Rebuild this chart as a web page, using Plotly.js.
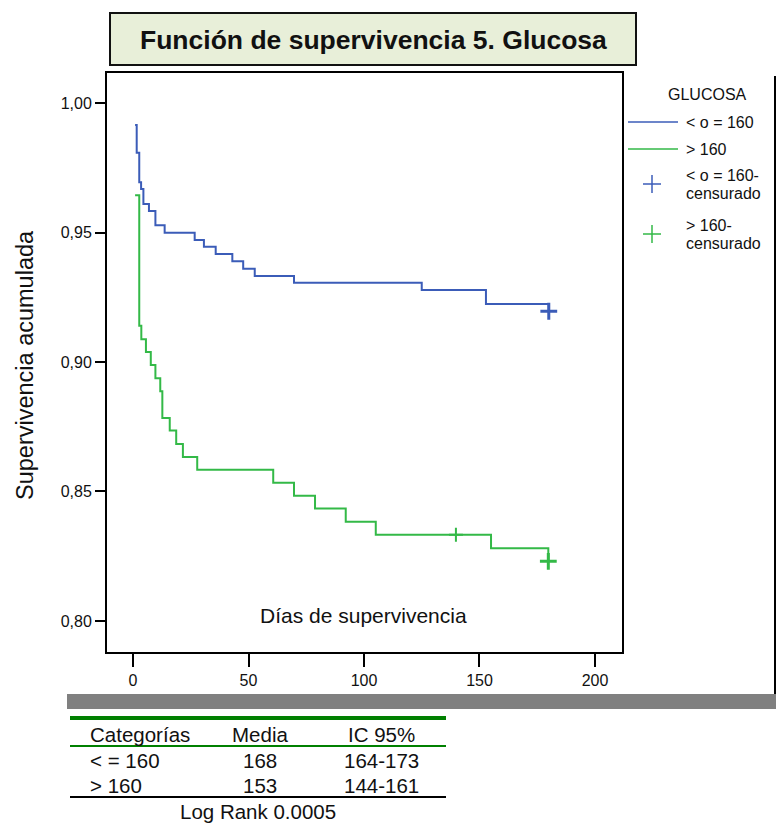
<!DOCTYPE html>
<html>
<head>
<meta charset="utf-8">
<script src="https://cdn.plot.ly/plotly-3.0.1.min.js"></script>
<style>
html,body{margin:0;padding:0;background:#fff;}
#chart{width:776px;height:823px;}
</style>
</head>
<body>
<div id="chart"></div>
<script>
// ---- data ----
const groupNames = ["< o = 160", "> 160"];
const timesLow = [0.9, 1.6, 2.7, 3.5, 4.5, 6.9, 9.7, 13.7, 26.7, 30.7, 35.8, 43.0, 47.7, 52.7, 69.7, 125.0, 152.8, 180.0];
const survLow  = [0.9915, 0.9808, 0.9694, 0.9668, 0.9610, 0.9583, 0.9528, 0.9499, 0.9471, 0.9445, 0.9417, 0.9389, 0.9360, 0.9332, 0.9306, 0.9278, 0.9224, 0.9196];
const timesHigh = [0.9, 2.7, 3.6, 5.6, 7.7, 9.7, 11.8, 12.7, 15.9, 18.7, 21.6, 27.8, 60.7, 69.7, 78.8, 92.1, 105.1, 155.0, 179.8];
const survHigh  = [0.9644, 0.9140, 0.9088, 0.9039, 0.8988, 0.8937, 0.8887, 0.8784, 0.8735, 0.8683, 0.8633, 0.8584, 0.8534, 0.8483, 0.8434, 0.8383, 0.8333, 0.8281, 0.8230];
const censLowT = [180.0];
const censLowS = [0.9196];
const censHighT = [139.8, 179.8];
const censHighS = [0.8333, 0.8230];
const xTicks = [0, 50, 100, 150, 200];
const yTicks = [0.80, 0.85, 0.90, 0.95, 1.00];

const tableHeader = ["Categorías", "Media", "IC 95%"];
const tableCategories = ["< = 160", "> 160"];
const tableMeans = ["168", "153"];
const tableCI = ["164-173", "144-161"];
const logRankText = "Log Rank 0.0005";

// ---- styling ----
const W = 776, H = 823;
const BLUE = "#3b5cb8", GREEN = "#33b947";
const FONT = "Arial, 'Liberation Sans', sans-serif";
const px = v => v / W;            // paper x from pixel
const py = v => 1 - v / H;        // paper y from pixel (top-origin)

const traces = [
  {x: timesLow, y: survLow, mode: "lines", line: {shape: "hv", color: BLUE, width: 2}, name: groupNames[0], showlegend: false},
  {x: timesHigh, y: survHigh, mode: "lines", line: {shape: "hv", color: GREEN, width: 2}, name: groupNames[1], showlegend: false},
  {x: censLowT, y: censLowS, mode: "markers", marker: {symbol: "cross-thin", size: 12, color: BLUE, line: {color: BLUE, width: 3}}, name: groupNames[0] + "-censurado", showlegend: false},
  {x: censHighT.slice(0,1), y: censHighS.slice(0,1), mode: "markers", marker: {symbol: "cross-thin", size: 10, color: GREEN, line: {color: GREEN, width: 2}}, name: groupNames[1] + "-censurado", showlegend: false},
  {x: censHighT.slice(1), y: censHighS.slice(1), mode: "markers", marker: {symbol: "cross-thin", size: 12, color: GREEN, line: {color: GREEN, width: 3}}, name: groupNames[1] + "-censurado", showlegend: false}
];

const shapes = [];
const annotations = [];
const txt = (x, y, text, size, anchor, extra) => annotations.push(Object.assign({xref: "paper", yref: "paper", x: px(x), y: py(y), text: text,
  showarrow: false, font: {family: FONT, size: size, color: "#111"}, xanchor: anchor, yanchor: "middle"}, extra || {}));

// title box
shapes.push({type: "rect", xref: "paper", yref: "paper", x0: px(110), x1: px(636), y0: py(65), y1: py(13),
  fillcolor: "#e8efd9", line: {color: "#111", width: 2}, layer: "below"});
txt(373, 40, "<b>Función de supervivencia 5. Glucosa</b>", 26.5, "center");

// right frame line
shapes.push({type: "line", xref: "paper", yref: "paper", x0: px(775), x1: px(775), y0: py(76), y1: py(694), line: {color: "#000", width: 2}});
// gray bar
shapes.push({type: "rect", xref: "paper", yref: "paper", x0: px(67), x1: px(776), y0: py(709), y1: py(694), fillcolor: "#808080", line: {width: 0}});

// axis titles
txt(25, 365, "Supervivencia acumulada", 23.5, "center", {textangle: -90});
txt(363, 615, "Días de supervivencia", 21, "center");

// legend
txt(707, 95, "GLUCOSA", 16, "center");
const legLines = [{c: BLUE, y: 122, t: groupNames[0]}, {c: GREEN, y: 149, t: groupNames[1]}];
legLines.forEach(l => {
  shapes.push({type: "line", xref: "paper", yref: "paper", x0: px(628), x1: px(678), y0: py(l.y), y1: py(l.y), line: {color: l.c, width: 1.5}});
  txt(684, l.y, l.t, 16, "left");
});
const legCens = [{c: BLUE, y: 184, t: groupNames[0] + "-"}, {c: GREEN, y: 234, t: groupNames[1] + "-"}];
legCens.forEach(l => {
  shapes.push({type: "line", xref: "paper", yref: "paper", x0: px(643), x1: px(661), y0: py(l.y), y1: py(l.y), line: {color: l.c, width: 1.5}});
  shapes.push({type: "line", xref: "paper", yref: "paper", x0: px(652), x1: px(652), y0: py(l.y - 9), y1: py(l.y + 9), line: {color: l.c, width: 1.5}});
  txt(684, l.y - 9, l.t, 16, "left");
  txt(684, l.y + 9, "censurado", 16, "left");
});

// table
shapes.push({type: "line", xref: "paper", yref: "paper", x0: px(70), x1: px(446), y0: py(718), y1: py(718), line: {color: "#008000", width: 4}});
shapes.push({type: "line", xref: "paper", yref: "paper", x0: px(70), x1: px(446), y0: py(746), y1: py(746), line: {color: "#008000", width: 2}});
shapes.push({type: "line", xref: "paper", yref: "paper", x0: px(70), x1: px(446), y0: py(797), y1: py(797), line: {color: "#000", width: 2}});
const colX = [{x: 88, a: "left"}, {x: 260, a: "center"}, {x: 381, a: "center"}];
const TS = 20.5;
tableHeader.forEach((t, i) => txt(colX[i].x, 734, t, TS, colX[i].a));
const rowY = [760, 785];
tableCategories.forEach((c, r) => {
  [c, tableMeans[r], tableCI[r]].forEach((t, i) => txt(colX[i].x, rowY[r], t, TS, colX[i].a));
});
txt(258, 811, logRankText, TS, "center");

const layout = {
  width: W, height: H,
  margin: {l: 0, r: 0, t: 0, b: 0},
  paper_bgcolor: "#fff", plot_bgcolor: "#fff",
  showlegend: false,
  separators: ",.",
  xaxis: {
    domain: [px(107), px(622)],
    range: [-11.26, 211.7],
    tickvals: xTicks, ticktext: xTicks.map(String),
    ticks: "outside", ticklen: 13, tickwidth: 2, tickcolor: "#000",
    showline: true, linecolor: "#000", linewidth: 2, mirror: true,
    showgrid: false, zeroline: false,
    tickfont: {family: FONT, size: 16, color: "#111"}
  },
  yaxis: {
    domain: [py(652), py(73)],
    range: [0.788, 1.0116],
    tickvals: yTicks, tickformat: ".2f",
    ticks: "outside", ticklen: 10, tickwidth: 2, tickcolor: "#000",
    showline: true, linecolor: "#000", linewidth: 2, mirror: true,
    showgrid: false, zeroline: false,
    tickfont: {family: FONT, size: 16, color: "#111"}
  },
  shapes: shapes,
  annotations: annotations
};

Plotly.newPlot("chart", traces, layout, {displayModeBar: false, staticPlot: true});
</script>
</body>
</html>
